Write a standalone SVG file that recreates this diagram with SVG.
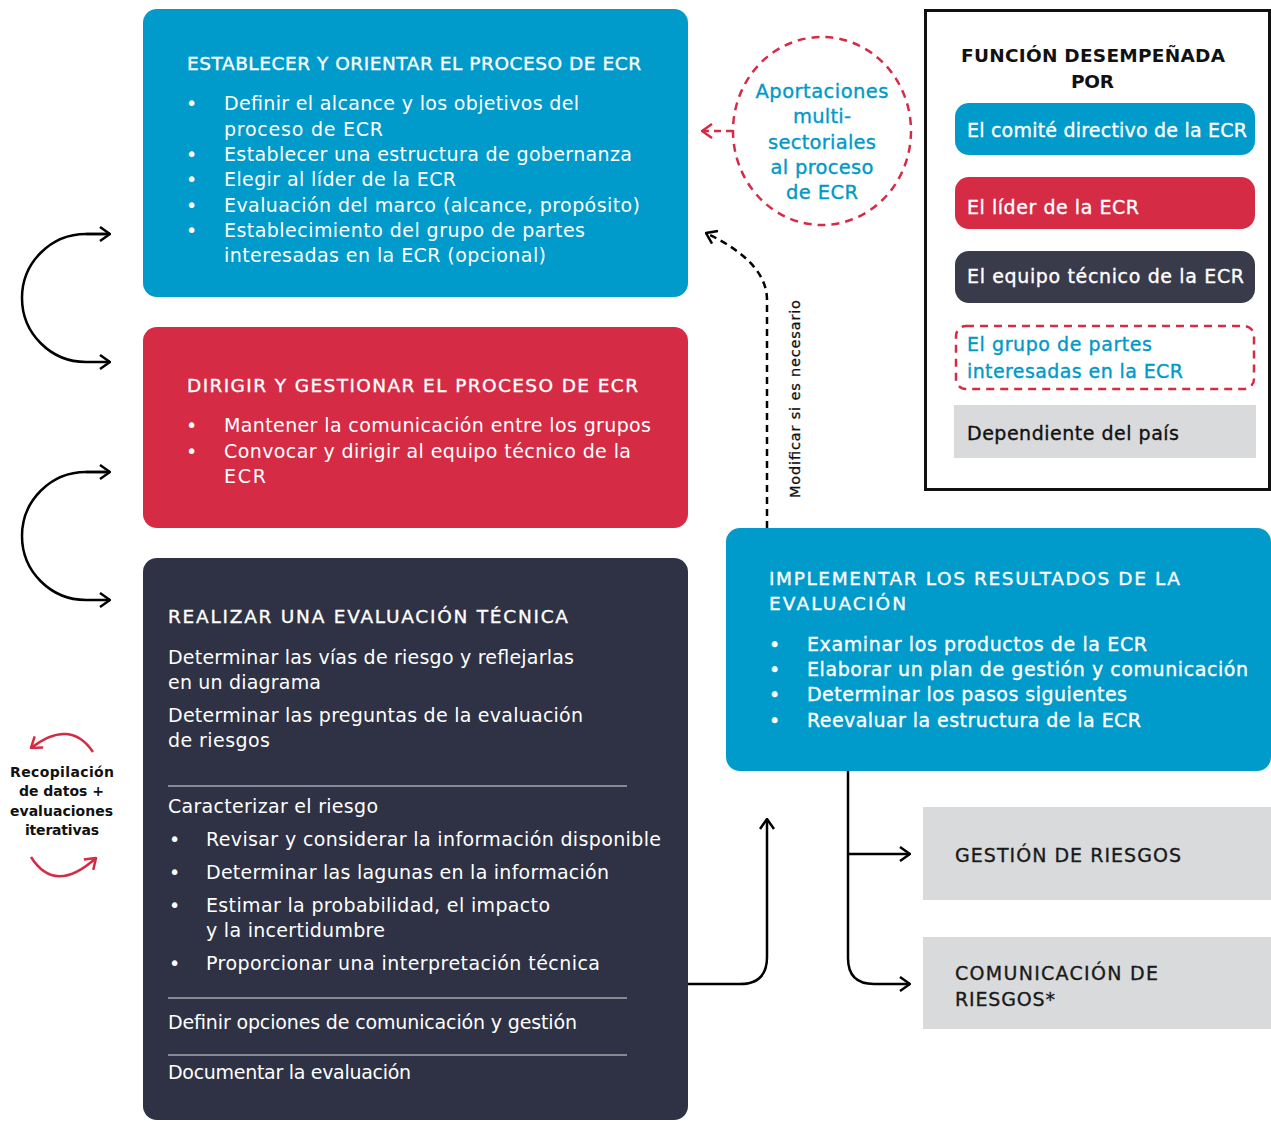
<svg xmlns="http://www.w3.org/2000/svg" width="1271" height="1121" viewBox="0 0 1271 1121">
<defs>
<style>
text{font-family:"DejaVu Sans","Noto Sans",sans-serif}
.w{fill:#fff}
.t{font-size:18.5px;fill:#fff;stroke:#fff;stroke-width:0.35}
.b{font-size:19px;fill:#fff}
.bm{font-size:19px;fill:#fff;stroke:#fff;stroke-width:0.35}
.lg{font-size:19px;stroke-width:0.35}
.ln{stroke:#fff;stroke-width:1;opacity:.85}
.k{fill:none;stroke:#000;stroke-width:2.5}
</style>
<marker id="ah" viewBox="0 0 12 16" refX="11" refY="8" markerWidth="12" markerHeight="16" markerUnits="userSpaceOnUse" orient="auto">
<path d="M1,1 L11,8 L1,15" fill="none" stroke="#000" stroke-width="2.5"/>
</marker>
<marker id="ahr" viewBox="0 0 12 16" refX="11" refY="8" markerWidth="12" markerHeight="16" markerUnits="userSpaceOnUse" orient="auto">
<path d="M1,1 L11,8 L1,15" fill="none" stroke="#D52B45" stroke-width="2.5"/>
</marker>
</defs>
<rect width="1271" height="1121" fill="#fff"/>

<g id="establecer">
<rect x="143" y="9" width="545" height="288" rx="14" fill="#009BCB"/>
<text x="187" y="70" class="t" textLength="454">ESTABLECER Y ORIENTAR EL PROCESO DE ECR</text>
<g class="b">
<text x="186" y="110">•</text><text x="224" y="110" textLength="355">Definir el alcance y los objetivos del</text>
<text x="224" y="136" textLength="159">proceso de ECR</text>
<text x="186" y="161">•</text><text x="224" y="161" textLength="408">Establecer una estructura de gobernanza</text>
<text x="186" y="186">•</text><text x="224" y="186" textLength="232">Elegir al líder de la ECR</text>
<text x="186" y="212">•</text><text x="224" y="212" textLength="416">Evaluación del marco (alcance, propósito)</text>
<text x="186" y="237">•</text><text x="224" y="237" textLength="361">Establecimiento del grupo de partes</text>
<text x="224" y="262" textLength="322">interesadas en la ECR (opcional)</text>
</g>
</g>

<g id="dirigir">
<rect x="143" y="327" width="545" height="201" rx="14" fill="#D52B45"/>
<text x="187" y="392" class="t" textLength="451">DIRIGIR Y GESTIONAR EL PROCESO DE ECR</text>
<g class="b">
<text x="186" y="432">•</text><text x="224" y="432" textLength="427">Mantener la comunicación entre los grupos</text>
<text x="186" y="458">•</text><text x="224" y="458" textLength="407">Convocar y dirigir al equipo técnico de la</text>
<text x="224" y="483" textLength="42">ECR</text>
</g>
</g>

<g id="tecnica">
<rect x="143" y="558" width="545" height="562" rx="14" fill="#2E3244"/>
<text x="168" y="623" class="t" textLength="400">REALIZAR UNA EVALUACIÓN TÉCNICA</text>
<g class="b">
<text x="168" y="664" textLength="406">Determinar las vías de riesgo y reflejarlas</text>
<text x="168" y="689" textLength="153">en un diagrama</text>
<text x="168" y="722" textLength="415">Determinar las preguntas de la evaluación</text>
<text x="168" y="747" textLength="102">de riesgos</text>
<text x="168" y="813" textLength="210">Caracterizar el riesgo</text>
<text x="169" y="846">•</text><text x="206" y="846" textLength="455">Revisar y considerar la información disponible</text>
<text x="169" y="879">•</text><text x="206" y="879" textLength="403">Determinar las lagunas en la información</text>
<text x="169" y="912">•</text><text x="206" y="912" textLength="344">Estimar la probabilidad, el impacto</text>
<text x="206" y="937" textLength="179">y la incertidumbre</text>
<text x="169" y="970">•</text><text x="206" y="970" textLength="394">Proporcionar una interpretación técnica</text>
<text x="168" y="1029" textLength="409">Definir opciones de comunicación y gestión</text>
<text x="168" y="1079" textLength="243">Documentar la evaluación</text>
</g>
<line x1="168" y1="786" x2="627" y2="786" class="ln"/>
<line x1="168" y1="998" x2="627" y2="998" class="ln"/>
<line x1="168" y1="1055" x2="627" y2="1055" class="ln"/>
</g>

<g id="implementar">
<rect x="726" y="528" width="545" height="243" rx="14" fill="#009BCB"/>
<text x="769" y="585" class="t" textLength="411">IMPLEMENTAR LOS RESULTADOS DE LA</text>
<text x="769" y="610" class="t" textLength="137">EVALUACIÓN</text>
<g class="bm">
<text x="769" y="651">•</text><text x="807" y="651" textLength="340">Examinar los productos de la ECR</text>
<text x="769" y="676">•</text><text x="807" y="676" textLength="441">Elaborar un plan de gestión y comunicación</text>
<text x="769" y="701">•</text><text x="807" y="701" textLength="320">Determinar los pasos siguientes</text>
<text x="769" y="727">•</text><text x="807" y="727" textLength="334">Reevaluar la estructura de la ECR</text>
</g>
</g>

<g id="aportaciones">
<ellipse cx="822" cy="131" rx="89" ry="94" fill="none" stroke="#D52B45" stroke-width="2.5" stroke-dasharray="8,6"/>
<g font-size="19.5" fill="#0099C8" stroke="#0099C8" stroke-width="0.35" text-anchor="middle">
<text x="822" y="98" textLength="133">Aportaciones</text>
<text x="822" y="123" textLength="58">multi-</text>
<text x="822" y="149" textLength="108">sectoriales</text>
<text x="822" y="174" textLength="103">al proceso</text>
<text x="822" y="199" textLength="72">de ECR</text>
</g>
</g>

<g id="gestion">
<rect x="923" y="807" width="348" height="93" fill="#D9DADB"/>
<text x="955" y="862" class="lg" fill="#1a1a1a" stroke="#1a1a1a" textLength="226">GESTIÓN DE RIESGOS</text>
</g>
<g id="comunicacion">
<rect x="923" y="937" width="348" height="92" fill="#D9DADB"/>
<text x="955" y="980" class="lg" fill="#1a1a1a" stroke="#1a1a1a" textLength="203">COMUNICACIÓN DE</text>
<text x="955" y="1006" class="lg" fill="#1a1a1a" stroke="#1a1a1a" textLength="100">RIESGOS*</text>
</g>

<g id="leyenda">
<rect x="925.5" y="10.5" width="344" height="479" fill="none" stroke="#111" stroke-width="3"/>
<g font-size="18.5" font-weight="700" fill="#111">
<text x="961" y="62" textLength="264">FUNCIÓN DESEMPEÑADA</text>
<text x="1071" y="88" textLength="43">POR</text>
</g>
<rect x="955" y="103" width="300" height="52" rx="14" fill="#009BCB"/>
<text x="967" y="137" class="lg w" stroke="#fff" textLength="280">El comité directivo de la ECR</text>
<rect x="955" y="177" width="300" height="52" rx="14" fill="#D52B45"/>
<text x="967" y="214" class="lg w" stroke="#fff" textLength="172">El líder de la ECR</text>
<rect x="955" y="251" width="300" height="52" rx="14" fill="#393A4A"/>
<text x="967" y="283" class="lg w" stroke="#fff" textLength="277">El equipo técnico de la ECR</text>
<rect x="956" y="326" width="298" height="63" rx="10" fill="none" stroke="#D52B45" stroke-width="2.5" stroke-dasharray="8,6"/>
<text x="967" y="351" class="lg" fill="#0099C8" stroke="#0099C8" textLength="185">El grupo de partes</text>
<text x="967" y="378" class="lg" fill="#0099C8" stroke="#0099C8" textLength="216">interesadas en la ECR</text>
<rect x="954" y="405" width="302" height="53" fill="#D9DADB"/>
<text x="967" y="440" class="lg" fill="#111" stroke="#111" textLength="212">Dependiente del país</text>
</g>

<g id="iterativo">
<g font-size="14" font-weight="700" fill="#111">
<text x="10" y="777" textLength="104">Recopilación</text>
<text x="19" y="796" textLength="85">de datos +</text>
<text x="10" y="816" textLength="103">evaluaciones</text>
<text x="25" y="835" textLength="74">iterativas</text>
</g>
</g>

<g id="conectores">
<path d="M110,234 H86 A64,64 0 0 0 86,362 H110" class="k" marker-end="url(#ah)"/>
<path d="M86,234 H110" class="k" marker-end="url(#ah)"/>
<path d="M110,472 H86 A64,64 0 0 0 86,600 H110" class="k" marker-end="url(#ah)"/>
<path d="M86,472 H110" class="k" marker-end="url(#ah)"/>
<path d="M767,528 V300 Q767,262 706,233" class="k" stroke-dasharray="7,5" marker-end="url(#ah)"/>
<text transform="translate(800,399) rotate(-90)" text-anchor="middle" font-size="14.5" fill="#111" stroke="#111" stroke-width="0.3" textLength="198">Modificar si es necesario</text>
<path d="M733,131 H702" fill="none" stroke="#D52B45" stroke-width="2.5" stroke-dasharray="7,5" marker-end="url(#ahr)"/>
<path d="M688,984 H740 Q767,984 767,957 V819" class="k" marker-end="url(#ah)"/>
<path d="M848,771 V958 Q848,984 874,984 H910" class="k" marker-end="url(#ah)"/>
<path d="M848,854 H910" class="k" marker-end="url(#ah)"/>
<path d="M93,752 Q70,718 31,748" fill="none" stroke="#D52B45" stroke-width="2.5" marker-end="url(#ahr)"/>
<path d="M31,857 Q55,895 96,858" fill="none" stroke="#D52B45" stroke-width="2.5" marker-end="url(#ahr)"/>
</g>
</svg>
